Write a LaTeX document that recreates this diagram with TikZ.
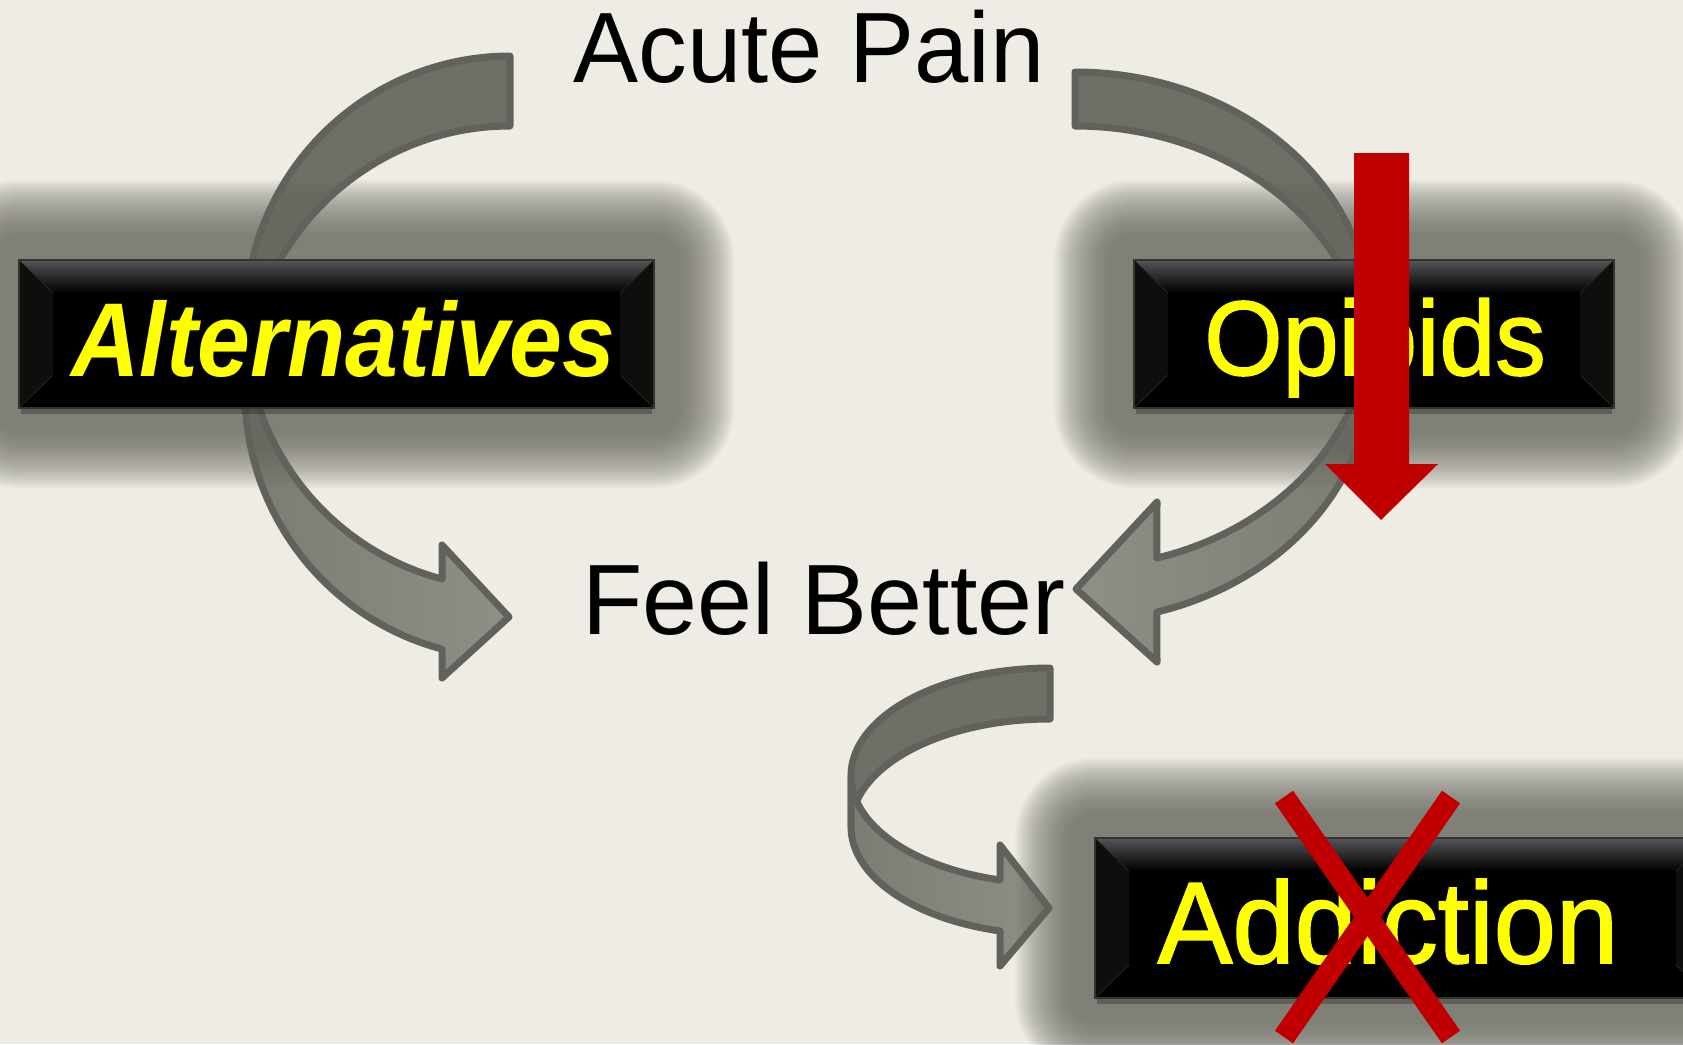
\documentclass[tikz,border=0pt]{standalone}
\usepackage{fontspec}
\setmainfont{Liberation Sans}
\newfontfamily\heavyfont[FakeBold=1.5]{Liberation Sans}
\usetikzlibrary{calc}
\definecolor{bg}{HTML}{EEECE4}
\definecolor{arrowdark}{HTML}{6F6F68}
\definecolor{arrowlightA}{HTML}{7C7C75}
\definecolor{arrowlightB}{HTML}{8F8F88}
\definecolor{arrowline}{HTML}{62625C}
\definecolor{glowc}{HTML}{6A6961}
\definecolor{bevtop}{HTML}{55555A}
\definecolor{bevside}{HTML}{0E0E0C}
\definecolor{boxline}{HTML}{34342F}
\definecolor{redmark}{HTML}{C00000}
\definecolor{txtyellow}{HTML}{FFFF00}
\newcommand\glowaround[1]{%
  \foreach \e in {26,28,...,80}{%
    \fill[glowlayer, rounded corners=\e pt] ($(#1.north west)+(-\e,-\e)$) rectangle ($(#1.south east)+(\e,\e)$);}}
\newcommand\bevelof[1]{%
  \fill[black, opacity=0.25] ($(#1.south west)+(2,0)$) rectangle ($(#1.south east)+(-2,6)$);
  \fill[bevside] (#1.north west) -- ($(#1.north west)+(34,33)$) -- ($(#1.south west)+(34,-33)$) -- (#1.south west) -- cycle;
  \fill[bevside] (#1.north east) -- ($(#1.north east)+(-34,33)$) -- ($(#1.south east)+(-34,-33)$) -- (#1.south east) -- cycle;
  \shade[top color=bevtop, bottom color=black] (#1.north west) -- (#1.north east) -- ($(#1.north east)+(-34,33)$) -- ($(#1.north west)+(34,33)$) -- cycle;
  \draw[bevedge] (#1.north west) -- ($(#1.north west)+(34,33)$);
  \draw[bevedge] (#1.north east) -- ($(#1.north east)+(-34,33)$);
  \draw[bevedge] (#1.south west) -- ($(#1.south west)+(34,-33)$);
  \draw[bevedge] (#1.south east) -- ($(#1.south east)+(-34,-33)$);
  \draw[boxline, line width=2pt] (#1.north west) rectangle (#1.south east);}
\begin{document}
\begin{tikzpicture}[x=1pt,y=-1pt,
  band/.style={draw=arrowline, line width=7pt, line join=round},
  backband/.style={band, fill=arrowdark},
  frontR/.style={band, left color=arrowlightA, right color=arrowlightB},
  frontL/.style={band, left color=arrowlightB, right color=arrowlightA},
  blackbox/.style={fill=black, inner sep=0pt, outer sep=0pt},
  glowlayer/.style={fill=glowc, fill opacity=0.05},
  bevedge/.style={draw=black!85!white, line width=0.8pt},
  plain/.style={text=black, inner sep=0pt, anchor=base},
  boxtext/.style={text=txtyellow, inner sep=0pt, anchor=base},
  crossbar/.style={draw=redmark, line width=22pt},
  redarrow/.style={fill=redmark}]
\fill[bg] (0,0) rectangle (1683,1044);
\useasboundingbox (0,0) rectangle (1683,1044);
\clip (0,0) rectangle (1683,1044);

% ---- curved arrow: Acute Pain -> Alternatives -> Feel Better
\path[backband] (510,56)
  -- plot[domain=-90:-180, samples=60, variable=\t] ({510+265*cos(\t)},{322+266*sin(\t)})
  -- plot[domain=-180:-90, samples=60, variable=\t] ({510+265*cos(\t)},{392+266*sin(\t)})
  -- cycle;
\path[frontR] plot[domain=180:104.87, samples=60, variable=\t] ({510+265*cos(\t)},{322+266*sin(\t)})
  -- (442,545) -- (509,617) -- (442,678)
  -- plot[domain=104.87:180, samples=60, variable=\t] ({510+265*cos(\t)},{392+266*sin(\t)})
  -- cycle;

% ---- curved arrow: Acute Pain -> Opioids -> Feel Better
\path[backband] (1075,72)
  -- plot[domain=-90:0, samples=60, variable=\t] ({1075+295*cos(\t)},{319.9+247.9*sin(\t)})
  -- plot[domain=0:-90, samples=60, variable=\t] ({1075+295*cos(\t)},{373.9+247.9*sin(\t)})
  -- cycle;
\path[frontL] plot[domain=0:73.9, samples=60, variable=\t] ({1075+295*cos(\t)},{319.9+247.9*sin(\t)})
  -- (1157,502) -- (1076,589) -- (1157,662)
  -- plot[domain=73.9:0, samples=60, variable=\t] ({1075+295*cos(\t)},{373.9+247.9*sin(\t)})
  -- cycle;

% ---- curved arrow: Feel Better -> Addiction
\path[backband] (1050,668)
  -- plot[domain=-90:-180, samples=60, variable=\t] ({1050+199*cos(\t)},{775.7+107.7*sin(\t)})
  -- plot[domain=-180:-90, samples=60, variable=\t] ({1050+199*cos(\t)},{826.7+107.7*sin(\t)})
  -- cycle;
\path[frontR] plot[domain=180:104.55, samples=60, variable=\t] ({1050+199*cos(\t)},{775.7+107.7*sin(\t)})
  -- (1000,845) -- (1049,908) -- (1000,966)
  -- plot[domain=104.55:180, samples=60, variable=\t] ({1050+199*cos(\t)},{826.7+107.7*sin(\t)})
  -- cycle;

% ---- boxes
\path (336.5,334) node[blackbox, minimum width=635pt, minimum height=148pt] (altbox) {};
\path (1374,334) node[blackbox, minimum width=480pt, minimum height=148pt] (opibox) {};
\path (1402.5,918) node[blackbox, minimum width=615pt, minimum height=160pt] (addbox) {};
\glowaround{altbox}
\glowaround{opibox}
\glowaround{addbox}
\path (336.5,334) node[blackbox, minimum width=635pt, minimum height=148pt] (altface) {};
\path (1374,334) node[blackbox, minimum width=480pt, minimum height=148pt] (opiface) {};
\path (1402.5,918) node[blackbox, minimum width=615pt, minimum height=160pt] (addface) {};
\bevelof{altface}
\bevelof{opiface}
\bevelof{addface}

% ---- texts
\node[plain, font=\fontsize{100}{110}\selectfont] (acute) at (809,82) {\scalebox{0.975}[1]{Acute Pain}};
\node[plain, font=\fontsize{100}{110}\selectfont] (feel) at (824,634) {\scalebox{0.988}[1]{Feel Better}};
\node[boxtext, font=\fontsize{105}{115}\selectfont\bfseries\itshape] (alt) at (343,376) {\scalebox{0.905}[1]{Alternatives}};
\node[boxtext, font=\fontsize{106}{116}\heavyfont] (opi) at (1375,375) {\scalebox{0.95}[1]{Opioids}};
\node[boxtext, font=\fontsize{116}{126}\heavyfont] (add) at (1388,963) {\scalebox{0.965}[1]{Addiction}};

% ---- red marks
\fill[redarrow] (1354,153) -- (1409,153) -- (1409,464) -- (1438,464) -- (1381,520) -- (1325,464) -- (1354,464) -- cycle;
\draw[crossbar] (1284,797) -- (1451,1037);
\draw[crossbar] (1451,797) -- (1284,1037);
\end{tikzpicture}
\end{document}
